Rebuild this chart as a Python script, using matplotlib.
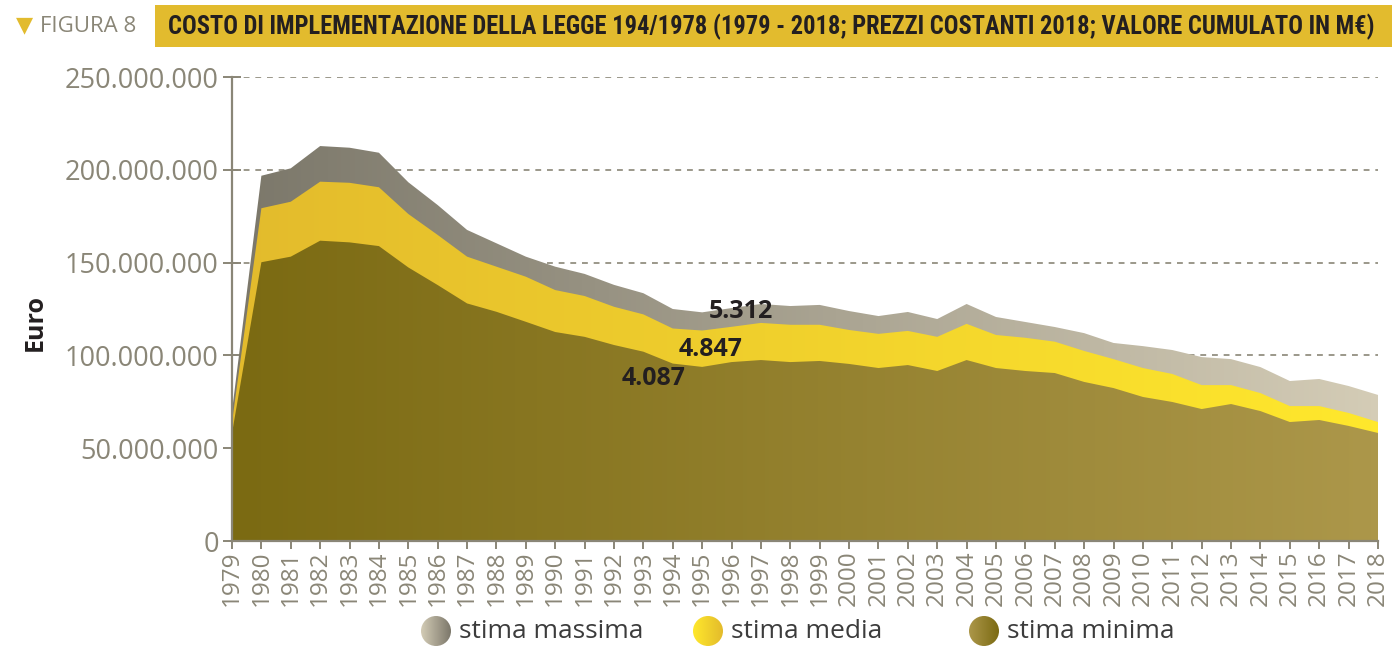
import numpy as np
import matplotlib
matplotlib.use('Agg')
import matplotlib.pyplot as plt
from matplotlib import font_manager
from matplotlib.colors import LinearSegmentedColormap
from matplotlib.patches import Rectangle, Ellipse

# ---------------- data ----------------
years = list(range(1979, 2019))
# values in millions of euro
stima_massima = [70, 196.8, 200.8, 212.8, 211.9, 209.2, 193.3, 181, 167.6, 160.4,
                 153.2, 147.8, 143.9, 138, 133.5, 125, 123.2, 125.5, 127.7, 126.6,
                 127.2, 123.9, 121.2, 123.4, 119.6, 127.7, 120.7, 118, 115.3, 112,
                 106.7, 105, 102.9, 99.1, 98, 93.7, 86.2, 87.3, 83.5, 78.7]
stima_media = [64, 179.3, 182.8, 193.6, 193, 190.6, 176.2, 164.9, 153.2, 147.8,
               142.4, 135.2, 132, 126.2, 122.1, 114.5, 113.4, 115.4, 117.5, 116.5,
               116.5, 113.7, 111.6, 113.2, 110, 117, 111, 109.5, 107.4, 102.4,
               98, 93.2, 90, 84, 84, 79.7, 72.7, 72.7, 69, 64.1]
stima_minima = [58, 150.2, 153.2, 161.8, 160.9, 158.9, 147.4, 137.9, 128, 123.5,
                118.1, 112.6, 110, 105.6, 102, 95.6, 93.8, 96.4, 97.5, 96.4,
                97, 95.4, 93.2, 94.8, 91.6, 97.5, 93.2, 91.6, 90.5, 85.7,
                82.4, 77.6, 74.9, 71.1, 73.8, 70, 64.1, 65.2, 62, 58.2]
series_names = ['stima massima', 'stima media', 'stima minima']
annot_labels = ['5.312', '4.847', '4.087']
annot_years = [1996.32, 1995.3, 1993.36]
annot_values = [123.4e6, 103.4e6, 87.3e6]
y_ticks = [0, 50e6, 100e6, 150e6, 200e6, 250e6]
y_tick_labels = ['0', '50.000.000', '100.000.000', '150.000.000', '200.000.000', '250.000.000']
title = 'COSTO DI IMPLEMENTAZIONE DELLA LEGGE 194/1978 (1979 - 2018; PREZZI COSTANTI 2018; VALORE CUMULATO IN M€)'
fig_label = 'FIGURA 8'
y_label = 'Euro'

# ---------------- styles ----------------
GRAY = '#8a8677'
DARK = '#231f20'
GOLD = '#e2bb2e'
grad_colors = [('#7b776a', '#d4ccb6'),   # massima
               ('#e3bb2c', '#ffe82c'),   # media
               ('#7b6a12', '#ac974a')]   # minima

# pick a condensed family for the header if one is installed
names = sorted({f.name for f in font_manager.fontManager.ttflist})
cond = [n for n in names if ('Narrow' in n or 'Condensed' in n)]
pref = ['Liberation Sans Narrow', 'Roboto Condensed', 'Open Sans Condensed']
title_family = next((p for p in pref if p in names), cond[0] if cond else 'Roboto')

W, H = 1392, 646
fig = plt.figure(figsize=(W / 100, H / 100), dpi=100)
ax = fig.add_axes([232 / W, 1 - 541 / H, (1378 - 232) / W, (541 - 77) / H])

x = np.array(years, dtype=float)
ymax = 250e6
all_series = [np.array(stima_massima) * 1e6, np.array(stima_media) * 1e6,
              np.array(stima_minima) * 1e6]

grad = np.linspace(0, 1, 256).reshape(1, -1)
for i, (vals, (cl, cr)) in enumerate(zip(all_series, grad_colors)):
    poly = ax.fill_between(x, 0, vals, facecolor='none', edgecolor='none', zorder=2 + i)
    cmap = LinearSegmentedColormap.from_list('g%d' % i, [cl, cr])
    im = ax.imshow(grad, cmap=cmap, aspect='auto', extent=[x[0], x[-1], 0, ymax],
                   origin='lower', zorder=2 + i, interpolation='bicubic')
    im.set_clip_path(poly.get_paths()[0], transform=ax.transData)

ax.set_xlim(x[0], x[-1])
ax.set_ylim(0, ymax)

# grid
for yv in y_ticks[1:]:
    ax.axhline(yv, color=GRAY, lw=1.2, ls=(0, (3.5, 3.5)), zorder=1)

for s in ['top', 'right']:
    ax.spines[s].set_visible(False)
for s in ['left', 'bottom']:
    ax.spines[s].set_color(GRAY)
    ax.spines[s].set_linewidth(1.6)
    ax.spines[s].set_zorder(6)

ax.set_yticks(y_ticks)
ax.set_yticklabels(y_tick_labels)
ax.set_xticks(years)
ax.set_xticklabels([str(y) for y in years], rotation=90)
ax.tick_params(axis='y', direction='inout', length=13, width=1.4, color=GRAY,
               labelcolor=GRAY, labelsize=19.5, pad=3)
ax.tick_params(axis='x', direction='out', length=6, width=1.4, color=GRAY,
               labelcolor=GRAY, labelsize=17.5, pad=1)
for lab in ax.get_yticklabels() + ax.get_xticklabels():
    lab.set_family('Open Sans')

ax.set_ylabel(y_label, fontsize=18, fontweight='bold', color=DARK, family='Open Sans')
ax.yaxis.set_label_coords(-0.161, 0.47)

for t, xv, yv in zip(annot_labels, annot_years, annot_values):
    ax.text(xv, yv, t, ha='center', va='center', fontsize=18, fontweight='bold',
            color=DARK, family='Open Sans', zorder=10)

# ---------------- overlay: header and legend ----------------
ov = fig.add_axes([0, 0, 1, 1])
ov.patch.set_visible(False)
ov.set_axis_off()

ov.add_patch(Rectangle((155, 5), W - 155, 42, facecolor=GOLD, edgecolor='none'))
ov.text(16, 25, '▼', fontsize=16, color=GOLD, ha='left', va='center', family='DejaVu Sans')
ov.text(40, 27, fig_label, fontsize=16, color=GRAY, ha='left', va='center', family='Open Sans')
tt = ov.text(168, 27, title, fontsize=17, color=DARK, ha='left', va='center',
             fontweight='bold', family=title_family)

leg_centers = [436, 708, 984]
for (name, (cl, cr), cx) in zip(series_names, grad_colors, leg_centers):
    ell = Ellipse((cx, 631), 30, 30, facecolor='none', edgecolor='none')
    ov.add_patch(ell)
    cmap = LinearSegmentedColormap.from_list('l' + name, [cr, cl])
    im = ov.imshow(grad, cmap=cmap, aspect='auto', extent=[cx - 15, cx + 15, 646, 616],
                   interpolation='bicubic')
    im.set_clip_path(ell)
    ov.text(cx + 23, 632, name, fontsize=19, color='#3c3c3c', ha='left', va='center',
            family='Open Sans')

ov.set_xlim(0, W)
ov.set_ylim(H, 0)

# fit title width to the header box
fig.canvas.draw()
r = fig.canvas.get_renderer()
wpx = tt.get_window_extent(r).width
tt.set_fontsize(17 * 1215 / wpx)

fig.savefig('out.png', dpi=100)
